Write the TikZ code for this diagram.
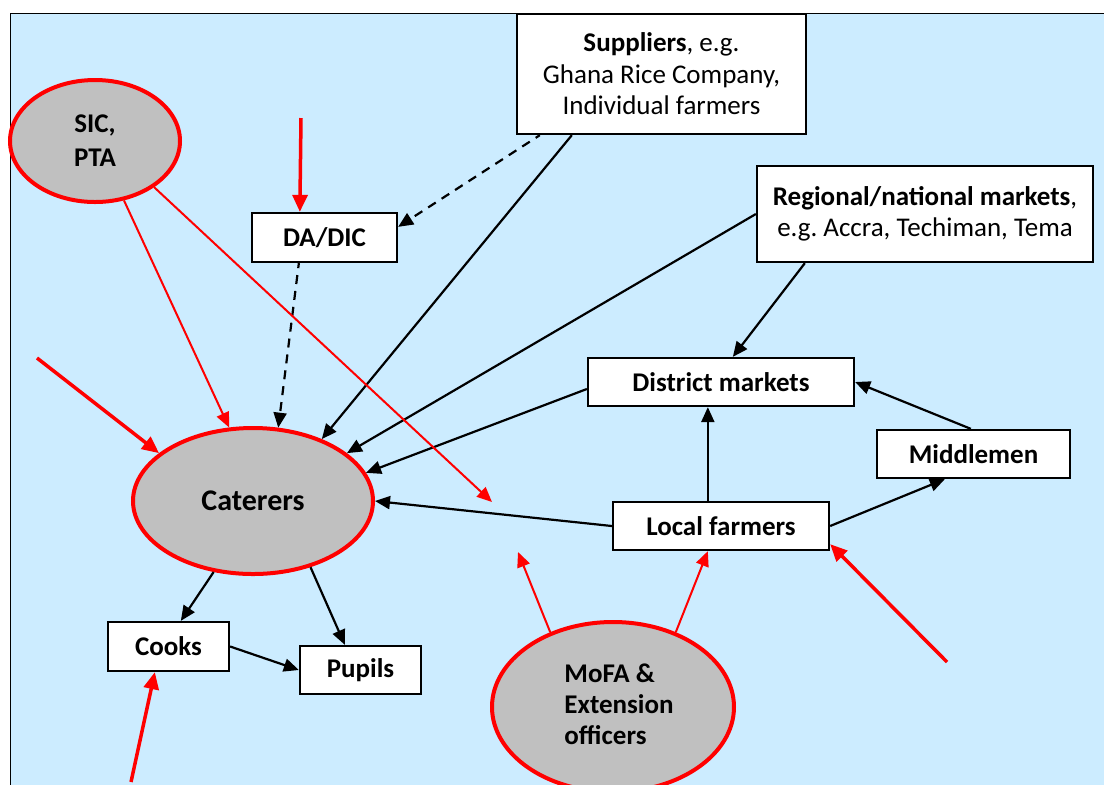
\documentclass[tikz,border=0pt]{standalone}
\usepackage{fontspec}
\setmainfont{Carlito}
\usetikzlibrary{arrows.meta,shapes.geometric,calc}
\frenchspacing

\definecolor{panelblue}{RGB}{204,236,255}
\definecolor{actorgray}{RGB}{192,192,192}
\definecolor{linkred}{RGB}{255,0,0}

\newcommand{\boxfont}{\fontsize{13.5}{15.7}\selectfont}

\tikzset{
  box/.style={draw=black, line width=1.15pt, fill=white, inner sep=0pt,
    font=\boxfont, align=center},
  boldbox/.style={box, font=\boxfont\bfseries},
  actor/.style={ellipse, draw=linkred, line width=2pt, fill=actorgray, inner sep=0pt,
    font=\fontsize{13.5}{16}\selectfont\bfseries, align=center},
  flow/.style={draw=black, line width=1.1pt, -{Triangle[length=7.5pt,width=6.5pt]}},
  dflow/.style={flow, dash pattern=on 4.5pt off 3.5pt, dash phase=2pt},
  redthin/.style={draw=linkred, line width=1pt, -{Triangle[length=7.5pt,width=6.5pt]}},
  redthick/.style={draw=linkred, line width=1.75pt, -{Triangle[length=8.5pt,width=7.5pt]}}
}

\begin{document}
\begin{tikzpicture}[x=0.5pt, y=-0.5pt]
  % canvas and panel
  \useasboundingbox (0,0) rectangle (1104,784);
  \fill[white] (0,0) rectangle (1104,784);
  \fill[panelblue] (10.5,13.5) rectangle (1110,790);
  \draw[black, line width=0.6pt] (10.5,790) -- (10.5,13.5) -- (1110,13.5);

  % actors
  \node[actor, minimum width=85pt, minimum height=61pt,
        font=\fontsize{13.5}{17}\selectfont\bfseries] (sic) at (95,141) {SIC,\\PTA};
  \node[actor, minimum width=120pt, minimum height=73pt,
        font=\fontsize{15}{17}\selectfont\bfseries] (cat) at (253,501) {Caterers};
  \node[actor, minimum width=121pt, minimum height=85pt] (mofa) at (613,707)
        {\hspace*{6pt}\begin{tabular}{@{}l@{}}MoFA \&\\[-0.5pt]Extension\\[-0.5pt]officers\end{tabular}};

  % boxes
  \node[box, minimum width=144.5pt, minimum height=60pt] (sup) at (661.5,74)
        {\textbf{Suppliers}, e.g.\\Ghana Rice Company,\\Individual farmers};
  \node[box, minimum width=168pt, minimum height=48pt] (reg) at (925,214)
        {\textbf{Regional/national markets},\\e.g. Accra, Techiman, Tema};
  \node[boldbox, minimum width=72.5pt, minimum height=24.5pt] (dadic) at (324.5,237.5) {DA/DIC};
  \node[boldbox, minimum width=133pt, minimum height=24pt] (dist) at (721,382) {District markets};
  \node[boldbox, minimum width=96.5pt, minimum height=24pt] (mid) at (973.5,454) {Middlemen};
  \node[boldbox, minimum width=108pt, minimum height=24pt] (loc) at (721,526) {Local farmers};
  \node[boldbox, minimum width=60.5pt, minimum height=24.5pt] (cooks) at (168.5,646.5) {Cooks};
  \node[boldbox, minimum width=60.5pt, minimum height=24pt] (pupils) at (360.5,670) {Pupils};

  % free ends of the red influence arrows
  \coordinate (inDA)    at (301,118);
  \coordinate (inCat)   at (37,358);
  \coordinate (inCooks) at (131,782);
  \coordinate (inLoc)   at (947,662);
  \coordinate (sicEnd)  at (492,502);
  \coordinate (mofaEnd) at (518,552);

  % supply flows
  \draw[dflow] ($(sup.south west)+(24,0)$) -- ($(dadic.north east)+(0,15)$);
  \draw[dflow] ($(dadic.south west)+(48,0)$) -- (cat.71);
  \draw[flow] ($(sup.south west)+(56,0)$) -- (cat.42);
  \draw[flow] (reg.west) -- (cat.27);
  \draw[flow] ($(reg.south west)+(49,0)$) -- ($(dist.north west)+(146,0)$);
  \draw[flow] ($(dist.west)+(0,7)$) -- (cat.14);
  \draw[flow] ($(mid.north west)+(95,0)$) -- (dist.east);
  \draw[flow] ($(loc.north west)+(96,0)$) -- ($(dist.south west)+(121,0)$);
  \draw[flow] (loc.west) -- (cat.east);
  \draw[flow] (loc.east) -- ($(mid.south west)+(69,0)$);
  \draw[flow] (cat.241) -- ($(cooks.north west)+(74,0)$);
  \draw[flow] (cat.311) -- ($(pupils.north west)+(46,0)$);
  \draw[flow] (cooks.east) -- (pupils.west);

  % influence arrows
  \draw[redthick] (inDA) -- ($(dadic.north west)+(49,0)$);
  \draw[redthick] (inCat) -- (cat.153);
  \draw[redthick] (inCooks) -- ($(cooks.south west)+(48,0)$);
  \draw[redthick] (inLoc) -- ($(loc.south east)+(0,-7)$);
  \draw[redthin] (sic.296) -- (cat.108);
  \draw[redthin] (sic.322) -- (sicEnd);
  \draw[redthin] (mofa.50) -- ($(loc.south west)+(96,0)$);
  \draw[redthin] (mofa.130) -- (mofaEnd);
\end{tikzpicture}
\end{document}
